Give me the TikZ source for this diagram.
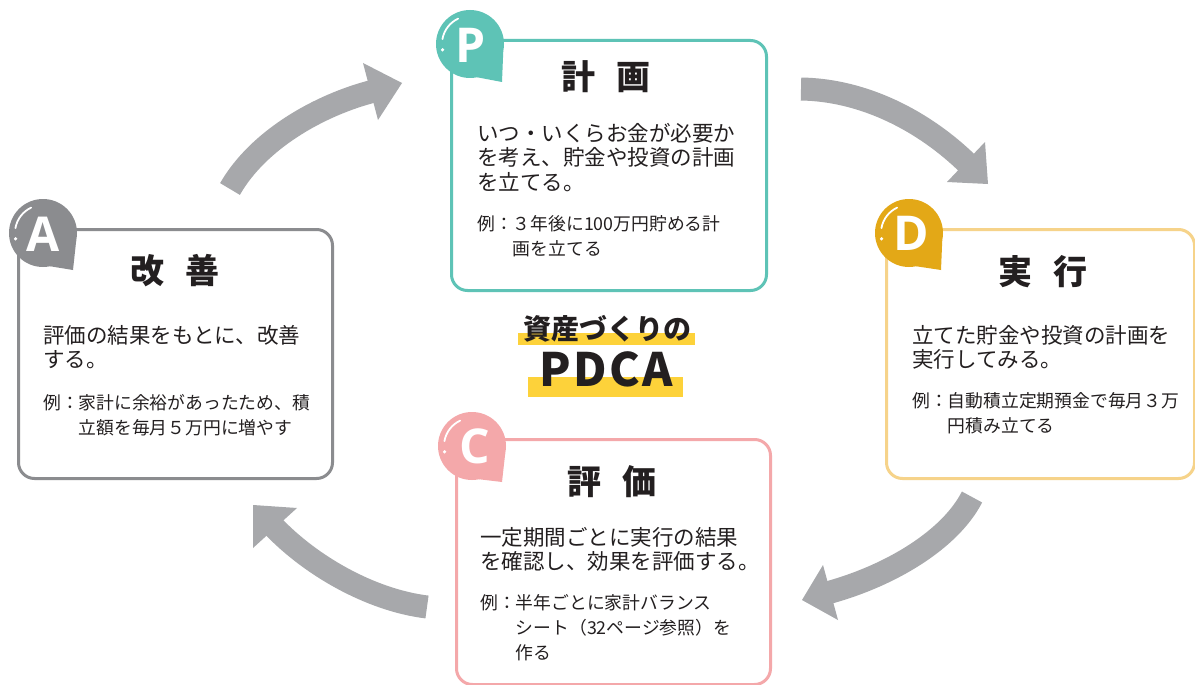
\documentclass[tikz,border=0pt]{standalone}
\usepackage{fontspec}
\newfontfamily\jp{Noto Sans CJK JP}
\newfontfamily\pdcafont{Noto Sans CJK JP}[LetterSpace=5]
\newfontfamily\badgefont{Open Sans}
\definecolor{txt}{HTML}{231F20}
\definecolor{tealc}{HTML}{5EC3B6}
\definecolor{goldc}{HTML}{E3A817}
\definecolor{goldl}{HTML}{F6D38A}
\definecolor{pinkc}{HTML}{F4A8AA}
\definecolor{grayc}{HTML}{8B8C8F}
\definecolor{arrowc}{HTML}{A7A8AB}
\definecolor{hlc}{HTML}{FDD23A}
\tikzset{
  stepbox/.style={draw, line width=3pt, rounded corners=16pt, fill=white, anchor=north west, inner sep=0pt},
  titletext/.style={font=\jp\bfseries\fontsize{34}{34}\selectfont, text=txt, inner sep=0pt},
  bodytext/.style={font=\jp\fontsize{21.5}{24.5}\selectfont, text=txt, align=left, anchor=base west, inner sep=0pt},
  extext/.style={font=\jp\fontsize{17.8}{25}\selectfont, text=txt, align=left, anchor=base west, inner sep=0pt},
  letter/.style={font=\badgefont\bfseries\fontsize{48}{48}\selectfont, text=white, inner sep=0pt},
  flow/.style={draw=arrowc, line width=23pt},
  flowhead/.style={fill=arrowc},
}
\newcommand{\badge}[4]{% color, center x, center y, tip offset
  \begin{scope}[shift={(#2,#3)}]
    \fill[#1] (0,0) circle (34pt);
    \fill[#1] (12:34) -- #4 -- (78:34) -- cycle;
    \draw[white, line width=1.8pt, line cap=round] (190:28) arc[start angle=190, end angle=245, radius=28];
    \fill[white] (168:28) circle (1.8pt);
  \end{scope}}
\begin{document}
\begin{tikzpicture}[x=1pt,y=-1pt]
\useasboundingbox (0,0) rectangle (1195,685);
\fill[white] (0,0) rectangle (1195,685);

% arrows
\coordinate (a1s) at (230,189); \coordinate (a1e) at (374,91);
\draw[flow] (a1s) .. controls (258,140) and (319,105) .. (a1e);
\fill[flowhead] (363,63) -- (402,83) -- (378,120) -- cycle;

\coordinate (a2s) at (801,89); \coordinate (a2e) at (968,164);
\draw[flow] (a2s) .. controls (865,90) and (925,122) .. (a2e);
\fill[flowhead] (947,182) -- (988,184) -- (985,142) -- cycle;

\coordinate (a3s) at (972,497); \coordinate (a3e) at (827,593);
\draw[flow] (a3s) .. controls (950,540) and (890,576) .. (a3e);
\fill[flowhead] (823,565) -- (802,600) -- (838,620) -- cycle;

\coordinate (a4s) at (427,607); \coordinate (a4e) at (273,526);
\draw[flow] (a4s) .. controls (370,600) and (310,565) .. (a4e);
\fill[flowhead] (297,508) -- (253,505) -- (253,548) -- cycle;

% boxes
\node[stepbox, draw=tealc, minimum width=315pt, minimum height=250pt] (Pbox) at (450,39) {};
\node[stepbox, draw=goldl, minimum width=308pt, minimum height=249pt] (Dbox) at (885,228) {};
\node[stepbox, draw=grayc, minimum width=314pt, minimum height=249pt] (Abox) at (17,228) {};
\node[stepbox, draw=pinkc, minimum width=314pt, minimum height=245pt] (Cbox) at (455,438) {};

% badges
\badge{tealc}{470}{44}{(32,38)}
\node[letter] (Pl) at (471,45) {P};
\badge{goldc}{909}{233}{(32,37)}
\node[letter] (Dl) at (911,233) {D};
\badge{grayc}{43}{233}{(30,37)}
\node[letter] (Al) at (43,234) {A};
\badge{pinkc}{472}{446}{(30,36)}
\node[letter] (Cl) at (475,446) {C};

% titles
\node[titletext] (Pt) at (606,77) {計\hspace{0.6em}画};
\node[titletext] (Dt) at (1043,272) {実\hspace{0.6em}行};
\node[titletext] (At) at (175,271) {改\hspace{0.6em}善};
\node[titletext] (Ct) at (612,482) {評\hspace{0.6em}価};

% body texts (anchor = baseline of last line)
\node[bodytext] (Pb) at (477,190) {いつ・いくらお金が必要か\\を考え、貯金や投資の計画\\を立てる。};
\node[extext] (Pe) at (477,255) {例：３年後に100万円貯める計\\\hspace*{2em}画を立てる};

\node[bodytext] (Db) at (912,367.5) {立てた貯金や投資の計画を\\実行してみる。};
\node[extext] (De) at (912,432) {例：自動積立定期預金で毎月３万\\\hspace*{2em}円積み立てる};

\node[bodytext] (Ab) at (43,367.5) {評価の結果をもとに、改善\\する。};
\node[extext] (Ae) at (43,434) {例：家計に余裕があったため、積\\\hspace*{2em}立額を毎月５万円に増やす};

\node[bodytext] (Cb) at (480,569.5) {一定期間ごとに実行の結果\\を確認し、効果を評価する。};
\node[extext] (Ce) at (480,659) {例：半年ごとに家計バランス\\\hspace*{2em}シート（32ページ参照）を\\\hspace*{2em}作る};

% center
\fill[hlc] (518,333) rectangle (695,345);
\fill[hlc] (528,377) rectangle (683,397);
\node[font=\jp\bfseries\fontsize{28}{28}\selectfont, text=txt, inner sep=0pt, anchor=base] (sub) at (607,339) {資産づくりの};
\node[font=\pdcafont\bfseries\fontsize{46}{46}\selectfont, text=txt, inner sep=0pt, anchor=base] (pdca) at (606,386) {PDCA};
\end{tikzpicture}
\end{document}
